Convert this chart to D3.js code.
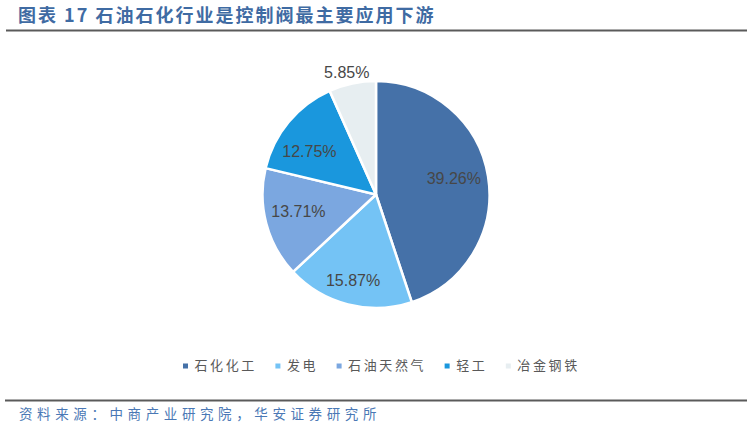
<!DOCTYPE html>
<html>
<head>
<meta charset="utf-8">
<script src="https://cdn.jsdelivr.net/npm/d3@7"></script>
<style>
  html, body { margin: 0; padding: 0; background: #fff; }
  svg { display: block; }
</style>
</head>
<body>
<svg id="chart" width="753" height="429"></svg>
<script>
// ---- data ----
const categories = ["石化化工", "发电", "石油天然气", "轻工", "冶金钢铁"];
const values = [39.26, 15.87, 13.71, 12.75, 5.85];
const labels = ["39.26%", "15.87%", "13.71%", "12.75%", "5.85%"];
const titleText = "图表 17 石油石化行业是控制阀最主要应用下游";
const sourceText = "资料来源：中商产业研究院，华安证券研究所";

// ---- style / layout ----
const colors = ["#4571A8", "#74C3F5", "#7BA7E0", "#1A97DD", "#E7EEF1"];
const W = 753, H = 429;
const cx = 376, cy = 194.5, R = 113.5;
const labelRadiusFactor = [0.70, 0.78, 0.70, 0.70, 1.11];
const labelAngleShiftDeg = [-2.5, 0.7, 2.5, -6.6, -1.4];

const svg = d3.select("#chart");

// title
svg.append("text")
  .attr("x", 18).attr("y", 22)
  .attr("font-family", "'Noto Sans CJK SC', 'Liberation Sans', sans-serif")
  .attr("font-weight", 700)
  .attr("font-size", 18)
  .attr("letter-spacing", 2.0)
  .attr("fill", "#3F6BA3")
  .text(titleText);

svg.append("line")
  .attr("x1", 6).attr("x2", 747).attr("y1", 30.5).attr("y2", 30.5)
  .attr("stroke", "#5a5a5a").attr("stroke-width", 2);

// pie
const pie = d3.pie().sort(null).value(d => d)(values);
const arc = d3.arc().innerRadius(0).outerRadius(R);
const g = svg.append("g").attr("transform", `translate(${cx},${cy})`);

g.selectAll("path.slice")
  .data(pie)
  .join("path")
  .attr("class", "slice")
  .attr("d", arc)
  .attr("fill", (d, i) => colors[i])
  .attr("stroke", "#fff")
  .attr("stroke-width", 2.5)
  .attr("stroke-linejoin", "round");

g.selectAll("text.lbl")
  .data(pie)
  .join("text")
  .attr("class", "lbl")
  .attr("x", (d, i) => {
    const a = (d.startAngle + d.endAngle) / 2 + labelAngleShiftDeg[i] * Math.PI / 180;
    return Math.sin(a) * R * labelRadiusFactor[i];
  })
  .attr("y", (d, i) => {
    const a = (d.startAngle + d.endAngle) / 2 + labelAngleShiftDeg[i] * Math.PI / 180;
    return -Math.cos(a) * R * labelRadiusFactor[i];
  })
  .attr("dy", "0.35em")
  .attr("text-anchor", "middle")
  .attr("font-family", "'Liberation Sans', Arial, sans-serif")
  .attr("font-size", 16)
  .attr("fill", "#474747")
  .text((d, i) => labels[i]);

// legend
const legend = svg.append("g").attr("transform", "translate(183,0)");
let lx = 0;
categories.forEach((c, i) => {
  const item = legend.append("g").attr("transform", `translate(${lx},0)`);
  item.append("rect")
    .attr("x", 0).attr("y", 363.5).attr("width", 5).attr("height", 5)
    .attr("fill", colors[i]);
  const t = item.append("text")
    .attr("x", 11.5).attr("y", 369.5)
    .attr("font-family", "'Noto Sans CJK SC', sans-serif")
    .attr("font-size", 13)
    .attr("letter-spacing", 2.6)
    .attr("fill", "#595959")
    .text(c);
  lx += 11.5 + t.node().getComputedTextLength() + 18.5;
});

// footer
svg.append("line")
  .attr("x1", 5).attr("x2", 747).attr("y1", 400.5).attr("y2", 400.5)
  .attr("stroke", "#5a5a5a").attr("stroke-width", 2);

svg.append("text")
  .attr("x", 19).attr("y", 419)
  .attr("font-family", "'Noto Sans CJK SC', sans-serif")
  .attr("font-size", 13.5)
  .attr("letter-spacing", 4.6)
  .attr("fill", "#4A78B5")
  .text(sourceText);
</script>
</body>
</html>
